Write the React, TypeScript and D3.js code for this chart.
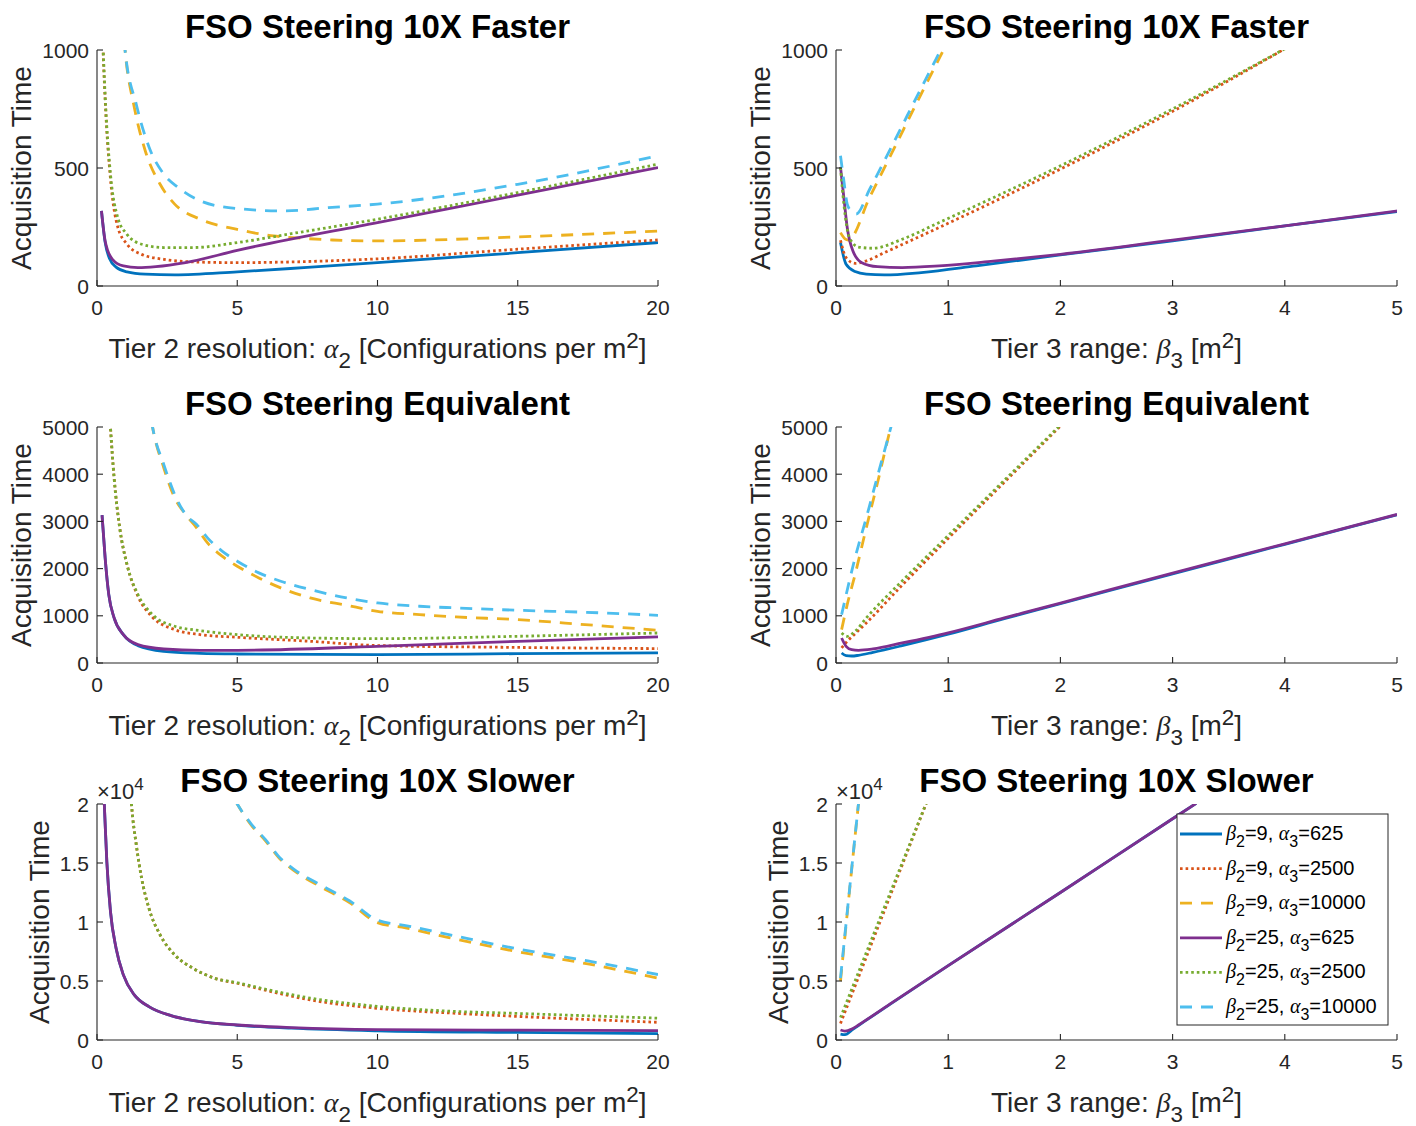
import React from 'react';
import * as d3 from 'd3';

type Pt = [number, number];

// legend: beta2 / alpha3 for each series
const legendBeta2 = ['9', '9', '9', '25', '25', '25'];
const legendAlpha3 = ['625', '2500', '10000', '625', '2500', '10000'];
const seriesColors = ['#0072BD', '#D95319', '#EDB120', '#7E2F8E', '#77AC30', '#4DBEEE'];
const seriesDash = ['none', '2.6,3', '12,9', 'none', '2.6,3', '12,9'];

const alphaTicks = [0, 5, 10, 15, 20];
const betaTicks = [0, 1, 2, 3, 4, 5];
const fasterTicks = [0, 500, 1000];
const equivTicks = [0, 1000, 2000, 3000, 4000, 5000];
const slowerTicks = [0, 5000, 10000, 15000, 20000];
const slowerTickLabels = ['0', '0.5', '1', '1.5', '2'];

// row 1: FSO steering 10X faster, vs alpha2
const fasterAlpha: Pt[][] = [
  [[0.16, 318], [0.29, 185], [0.45, 115], [0.68, 80], [1.07, 60], [1.72, 50], [2.77, 47], [5, 60], [7.5, 79], [10, 99], [15, 141], [20, 184]],
  [[0.2, 1060], [0.22, 990], [0.31, 745], [0.48, 455], [0.74, 250], [1.07, 177], [1.59, 134], [2.38, 113], [3.42, 102], [5, 99], [6.94, 102], [10, 115], [15, 156], [20, 195]],
  [[0.97, 1040], [1.0, 1000], [1.33, 757], [1.72, 573], [2.25, 431], [2.77, 347], [3.68, 283], [5, 240], [6.3, 212], [7.34, 202], [8.4, 195], [10, 191], [15, 208], [20, 233]],
  [[0.16, 318], [0.29, 191], [0.55, 113], [0.94, 85], [1.46, 78], [2.1, 82], [3.16, 99], [5, 151], [10, 269], [15, 385], [20, 502]],
  [[0.2, 1060], [0.22, 1000], [0.31, 757], [0.48, 474], [0.74, 290], [1.07, 219], [1.59, 177], [2.38, 163], [3.42, 163], [5, 184], [6.94, 222], [10, 283], [15, 396], [20, 516]],
  [[0.97, 1040], [1.0, 1000], [1.4, 770], [1.85, 590], [2.38, 474], [2.9, 417], [3.68, 361], [5, 328], [6.68, 318], [8.25, 332], [10, 347], [15, 431], [20, 552]],
];

// row 1: vs beta3
const fasterBeta: Pt[][] = [
  [[0.04, 184], [0.09, 92], [0.17, 61], [0.27, 50], [0.43, 47], [0.76, 57], [1.25, 85], [2, 132], [3, 191], [4, 255], [5, 315]],
  [[0.04, 194], [0.09, 120], [0.17, 96], [0.27, 106], [0.43, 141], [0.92, 248], [2, 495], [3, 740], [4, 1005]],
  [[0.04, 226], [0.08, 200], [0.11, 195], [0.3, 376], [0.5, 566], [0.75, 805], [0.98, 1020]],
  [[0.04, 505], [0.07, 375], [0.1, 248], [0.15, 149], [0.23, 99], [0.37, 82], [0.59, 78], [0.92, 85], [1.4, 105], [2, 134], [3, 194], [4, 255], [5, 318]],
  [[0.04, 502], [0.07, 347], [0.12, 205], [0.2, 165], [0.33, 160], [0.59, 198], [0.92, 269], [2, 509], [3, 750], [4, 1005]],
  [[0.04, 552], [0.07, 446], [0.1, 347], [0.14, 315], [0.18, 305], [0.3, 410], [0.5, 595], [0.75, 830], [0.96, 1025]],
];

// row 2: FSO steering equivalent, vs alpha2
const equivAlpha: Pt[][] = [
  [[0.18, 3133], [0.29, 2228], [0.42, 1450], [0.61, 955], [0.94, 601], [1.46, 368], [2.38, 248], [3.68, 205], [5, 191], [10, 177], [15, 198], [20, 215]],
  [[0.46, 5200], [0.48, 5000], [0.61, 3925], [0.81, 2864], [1.07, 2086], [1.46, 1414], [1.98, 969], [2.77, 707], [3.68, 601], [5, 545], [7.6, 460], [10, 370], [15, 330], [20, 305]],
  [[1.95, 5100], [1.98, 5000], [2.38, 4137], [2.77, 3500], [3.16, 3147], [3.55, 2864], [3.94, 2546], [4.46, 2263], [5, 2051], [5.77, 1803], [6.55, 1591], [7.6, 1379], [8.9, 1223], [10, 1096], [11.5, 1025], [12.8, 976], [15, 919], [17.4, 813], [20, 693]],
  [[0.18, 3133], [0.29, 2228], [0.42, 1450], [0.61, 955], [0.94, 601], [1.46, 389], [2.38, 297], [3.68, 269], [5, 269], [10, 354], [15, 460], [20, 552]],
  [[0.46, 5200], [0.48, 5000], [0.61, 3925], [0.81, 2864], [1.07, 2086], [1.46, 1450], [1.98, 1025], [2.77, 778], [3.68, 686], [5, 601], [7.6, 530], [10, 516], [15, 566], [20, 636]],
  [[1.95, 5100], [1.98, 5000], [2.38, 4208], [2.77, 3571], [3.16, 3147], [3.55, 2935], [3.94, 2652], [4.46, 2369], [5, 2157], [5.77, 1909], [6.55, 1733], [7.6, 1556], [8.9, 1379], [10, 1273], [11.5, 1202], [12.8, 1167], [15, 1117], [17.4, 1075], [20, 1011]],
];

// row 2: vs beta3
const equivBeta: Pt[][] = [
  [[0.05, 212], [0.09, 156], [0.14, 148], [0.2, 163], [0.33, 226], [0.59, 368], [1, 610], [1.5, 940], [2, 1255], [3, 1890], [4, 2515], [5, 3140]],
  [[0.05, 318], [0.1, 460], [0.17, 620], [0.27, 849], [0.59, 1650], [1, 2640], [1.5, 3830], [2.0, 5020]],
  [[0.05, 707], [0.1, 1237], [0.17, 1874], [0.27, 2864], [0.37, 3819], [0.48, 4915], [0.5, 5100]],
  [[0.05, 530], [0.09, 354], [0.14, 283], [0.2, 269], [0.33, 297], [0.59, 424], [1, 640], [1.5, 955], [2, 1270], [3, 1905], [4, 2525], [5, 3147]],
  [[0.05, 636], [0.1, 566], [0.17, 672], [0.27, 955], [0.59, 1740], [1, 2700], [1.5, 3870], [2.0, 5040]],
  [[0.05, 1025], [0.17, 2228], [0.27, 3076], [0.37, 3960], [0.49, 5000], [0.5, 5090]],
];

// row 3: FSO steering 10X slower, vs alpha2
const slowerAlpha: Pt[][] = [
  [[0.24, 21000], [0.26, 20000], [0.35, 15134], [0.48, 10891], [0.68, 7779], [0.94, 5516], [1.33, 3819], [1.85, 2829], [2.64, 2065], [3.68, 1556], [5, 1250], [6.94, 1000], [10, 780], [15, 640], [20, 540]],
  [[1.2, 21000], [1.23, 20000], [1.4, 16549], [1.59, 13720], [1.85, 11174], [2.25, 8911], [2.77, 7214], [3.42, 6082], [4.2, 5233], [5, 4809], [6.3, 4050], [7.6, 3400], [10, 2688], [12.5, 2300], [15, 2000], [20, 1500]],
  [[4.95, 20200], [5, 20000], [5.5, 18200], [6, 16900], [6.5, 15400], [7, 14400], [8, 12950], [9, 11650], [10, 9950], [11, 9500], [12.5, 8700], [15, 7480], [17.5, 6450], [20, 5250]],
  [[0.24, 21000], [0.26, 20000], [0.35, 15134], [0.48, 10891], [0.68, 7779], [0.94, 5516], [1.33, 3819], [1.85, 2829], [2.64, 2065], [3.68, 1556], [5, 1273], [6.94, 1047], [10, 880], [15, 830], [20, 800]],
  [[1.2, 21000], [1.23, 20000], [1.4, 16549], [1.59, 13720], [1.85, 11174], [2.25, 8911], [2.77, 7214], [3.42, 6082], [4.2, 5233], [5, 4850], [6.3, 4150], [7.6, 3550], [10, 2850], [12.5, 2450], [15, 2250], [20, 1850]],
  [[4.95, 20200], [5, 20000], [5.5, 18300], [6, 17000], [6.5, 15500], [7, 14500], [8, 13100], [9, 11800], [10, 10150], [11, 9700], [12.5, 8950], [15, 7720], [17.5, 6700], [20, 5550]],
];

// row 3: vs beta3
const slowerBeta: Pt[][] = [
  [[0.04, 500], [0.08, 450], [0.15, 900], [0.25, 1550], [0.5, 3150], [1, 6300], [2, 12500], [3, 18750], [3.21, 20050]],
  [[0.04, 1400], [0.4, 10200], [0.81, 20200]],
  [[0.04, 5000], [0.2, 20000], [0.21, 20900]],
  [[0.04, 850], [0.08, 760], [0.15, 980], [0.25, 1580], [0.5, 3170], [1, 6300], [2, 12500], [3, 18750], [3.21, 20050]],
  [[0.04, 1900], [0.4, 10500], [0.81, 20200]],
  [[0.04, 5250], [0.2, 20000], [0.21, 20900]],
];

const FONT = '"Liberation Sans", Arial, Helvetica, sans-serif';
const GREEK = '"Liberation Serif", "Times New Roman", serif';
const INK = '#262626';
const PW = 561;
const PH = 236;
const colLeft = [97, 836];
const rowTop = [50, 427, 804];

function XLabel({ cx, y, kind }) {
  const fs = 28;
  const sd = fs * 0.36;
  if (kind === 'alpha') {
    return (
      <text x={cx} y={y} textAnchor="middle" fontFamily={FONT} fontSize={fs} fill={INK}>
        Tier 2 resolution: <tspan fontFamily={GREEK} fontStyle="italic">α</tspan>
        <tspan dy={sd} fontSize={fs * 0.8}>2</tspan>
        <tspan dy={-sd}> [Configurations per m</tspan>
        <tspan dy={-sd} fontSize={fs * 0.8}>2</tspan>
        <tspan dy={sd}>]</tspan>
      </text>
    );
  }
  return (
    <text x={cx} y={y} textAnchor="middle" fontFamily={FONT} fontSize={fs} fill={INK}>
      Tier 3 range: <tspan fontFamily={GREEK} fontStyle="italic">β</tspan>
      <tspan dy={sd} fontSize={fs * 0.8}>3</tspan>
      <tspan dy={-sd}> [m</tspan>
      <tspan dy={-sd} fontSize={fs * 0.8}>2</tspan>
      <tspan dy={sd}>]</tspan>
    </text>
  );
}

function Legend() {
  const fs = 20;
  const sd = 7;
  return (
    <g>
      <rect x={1177} y={814} width={211} height={211} fill="#fff" stroke={INK} strokeWidth={1} />
      {legendBeta2.map((b, i) => {
        const ly = 834 + i * 34.6;
        return (
          <g key={i}>
            <line x1={1180} x2={1222} y1={ly} y2={ly} stroke={seriesColors[i]} strokeWidth={2.8}
              strokeDasharray={seriesDash[i]} />
            <text x={1226} y={ly + 6} fontFamily={FONT} fontSize={fs} fill="#000">
              <tspan fontFamily={GREEK} fontStyle="italic">β</tspan>
              <tspan dy={sd} fontSize={fs * 0.8}>2</tspan>
              <tspan dy={-sd}>={b}, </tspan>
              <tspan fontFamily={GREEK} fontStyle="italic">α</tspan>
              <tspan dy={sd} fontSize={fs * 0.8}>3</tspan>
              <tspan dy={-sd}>={legendAlpha3[i]}</tspan>
            </text>
          </g>
        );
      })}
    </g>
  );
}

function Panel({ col, row, title, xMax, xTicks, yMax, yTicks, yLabels, data, kind, exp, legend }) {
  const left = colLeft[col];
  const top = rowTop[row];
  const x = d3.scaleLinear().domain([0, xMax]).range([left, left + PW]);
  const y = d3.scaleLinear().domain([0, yMax]).range([top + PH, top]);
  const line = d3.line<Pt>().x(d => x(d[0])).y(d => y(d[1])).curve(d3.curveMonotoneX);
  const clipId = `clip-${col}-${row}`;
  const cx = left + PW / 2;
  const yLabelX = exp ? left - 48 : left - 66;

  return (
    <g>
      <defs>
        <clipPath id={clipId}>
          <rect x={left} y={top} width={PW} height={PH + 4} />
        </clipPath>
      </defs>
      <g clipPath={`url(#${clipId})`}>
        {data.map((s, i) => (
          <path key={i} d={line(s)} fill="none" stroke={seriesColors[i]} strokeWidth={2.8}
            strokeDasharray={seriesDash[i]} strokeLinejoin="round" />
        ))}
      </g>
      {/* axes */}
      <line x1={left} x2={left + PW} y1={top + PH} y2={top + PH} stroke={INK} strokeWidth={1.1} />
      <line x1={left} x2={left} y1={top} y2={top + PH} stroke={INK} strokeWidth={1.1} />
      {xTicks.map(t => (
        <g key={'x' + t}>
          <line x1={x(t)} x2={x(t)} y1={top + PH} y2={top + PH - 6} stroke={INK} strokeWidth={1.1} />
          <text x={x(t)} y={top + PH + 29} textAnchor="middle" fontFamily={FONT} fontSize={21} fill={INK}>{t}</text>
        </g>
      ))}
      {yTicks.map((t, i) => (
        <g key={'y' + t}>
          <line x1={left} x2={left + 6} y1={y(t)} y2={y(t)} stroke={INK} strokeWidth={1.1} />
          <text x={left - 8} y={y(t) + 7.5} textAnchor="end" fontFamily={FONT} fontSize={21} fill={INK}>
            {yLabels ? yLabels[i] : t}
          </text>
        </g>
      ))}
      {exp && (
        <text x={left} y={top - 5} fontFamily={FONT} fontSize={22} fill={INK}>
          ×10<tspan dy={-9} fontSize={17}>4</tspan>
        </text>
      )}
      <text x={cx} y={top - 12} textAnchor="middle" fontFamily={FONT} fontSize={33} fontWeight="bold" fill="#000">
        {title}
      </text>
      <text transform={`translate(${yLabelX},${top + PH / 2}) rotate(-90)`} textAnchor="middle"
        fontFamily={FONT} fontSize={28} fill={INK}>Acquisition Time</text>
      <XLabel cx={cx} y={top + PH + 72} kind={kind} />
      {legend && <Legend />}
    </g>
  );
}

export default function App() {
  const rows = [
    { title: 'FSO Steering 10X Faster', yMax: 1000, yTicks: fasterTicks, yLabels: null, a: fasterAlpha, b: fasterBeta, exp: false },
    { title: 'FSO Steering Equivalent', yMax: 5000, yTicks: equivTicks, yLabels: null, a: equivAlpha, b: equivBeta, exp: false },
    { title: 'FSO Steering 10X Slower', yMax: 20000, yTicks: slowerTicks, yLabels: slowerTickLabels, a: slowerAlpha, b: slowerBeta, exp: true },
  ];
  return (
    <svg width={1416} height={1126} style={{ position: 'absolute', left: 0, top: 0, background: '#fff' }}>
      <rect width={1416} height={1126} fill="#fff" />
      {rows.map((r, ri) => (
        <g key={ri}>
          <Panel col={0} row={ri} title={r.title} xMax={20} xTicks={alphaTicks} yMax={r.yMax}
            yTicks={r.yTicks} yLabels={r.yLabels} data={r.a} kind="alpha" exp={r.exp} legend={false} />
          <Panel col={1} row={ri} title={r.title} xMax={5} xTicks={betaTicks} yMax={r.yMax}
            yTicks={r.yTicks} yLabels={r.yLabels} data={r.b} kind="beta" exp={r.exp} legend={ri === 2} />
        </g>
      ))}
    </svg>
  );
}
